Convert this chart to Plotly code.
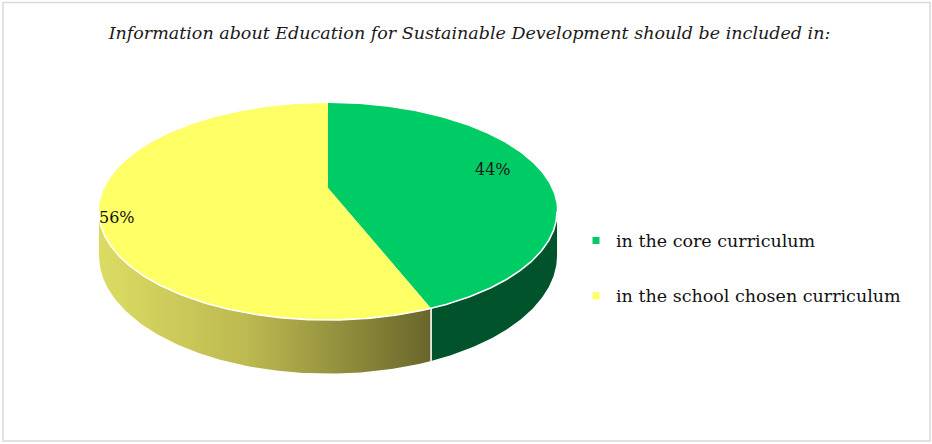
import numpy as np
import plotly.graph_objects as go

# ---- data ----
title_text = "Information about Education for Sustainable Development should be included in:"
categories = ["in the core curriculum", "in the school chosen curriculum"]
values = [44, 56]

# ---- style ----
top_colors = ["#00CC66", "#FFFF66"]
side_colors = ["#00532A", None]
side_gradient = [[0, "#DCDC64"], [0.45, "#BCB950"], [1, "#6A662B"]]
label_radius = [0.79, 0.93]
label_shift = [-2.5, -6.0]
label_colors = ["#1A1A1A", "#111111"]
serif = "DejaVu Serif"

W, H = 932, 444
cx, cy = 328.0, 188.0     # projected pie centre (pixels)
R, Hy = 223.6, 103.4      # horizontal / vertical radius
p = 0.2166                # perspective factor
T = 42.0                  # thickness


def proj(theta_deg, r=1.0, drop=0.0):
    t = np.radians(theta_deg)
    X = r * np.sin(t)
    Z = r * np.cos(t)
    d = 1 + p * Z
    return cx + R * X / d, cy - Hy * Z / d + drop / d


total = float(sum(values))
bounds = np.concatenate([[0], np.cumsum(values) / total * 360.0])

vis_lo = np.degrees(np.arccos(-p))        # ~102.5
vis_hi = 360 - vis_lo                     # ~257.5

fig = go.Figure()

# side faces
for i in range(len(values)):
    a, b = max(bounds[i], vis_lo), min(bounds[i + 1], vis_hi)
    if b <= a:
        continue
    th = np.linspace(a, b, 120)
    xt, yt = proj(th)
    xb, yb = proj(th[::-1], drop=T)
    xs = np.concatenate([xt, xb, xt[:1]])
    ys = np.concatenate([yt, yb, yt[:1]])
    kw = dict(x=xs, y=ys, mode="lines", fill="toself", line=dict(width=0),
              hoverinfo="skip", showlegend=False)
    if side_colors[i] is None:
        kw["fillgradient"] = dict(type="horizontal", colorscale=side_gradient,
                                  start=float(xs.min()), stop=float(xs.max()))
    else:
        kw["fillcolor"] = side_colors[i]
    fig.add_trace(go.Scatter(**kw))

# top faces
for i in range(len(values)):
    th = np.linspace(bounds[i], bounds[i + 1], 240)
    xa, ya = proj(th)
    xs = np.concatenate([[cx], xa, [cx]])
    ys = np.concatenate([[cy], ya, [cy]])
    fig.add_trace(go.Scatter(x=xs, y=ys, mode="lines", fill="toself",
                             fillcolor=top_colors[i], line=dict(width=0),
                             hoverinfo="skip", showlegend=False))

# white highlights: front rim and side seams
th = np.linspace(vis_lo, vis_hi, 300)
xr, yr = proj(th)
fig.add_trace(go.Scatter(x=xr, y=yr, mode="lines", line=dict(color="white", width=1.6),
                         hoverinfo="skip", showlegend=False))
for bnd in bounds[1:-1]:
    if vis_lo < bnd < vis_hi:
        x0, y0 = proj(bnd)
        x1, y1 = proj(bnd, drop=T)
        fig.add_trace(go.Scatter(x=[x0, x1], y=[y0, y1], mode="lines",
                                 line=dict(color="white", width=1.6),
                                 hoverinfo="skip", showlegend=False))

# percentage labels
for i in range(len(values)):
    mid = (bounds[i] + bounds[i + 1]) / 2 + label_shift[i]
    lx, ly = proj(mid, r=label_radius[i])
    fig.add_annotation(x=lx, y=ly, text=f"{values[i]}%", showarrow=False,
                       font=dict(family=serif, size=16, color=label_colors[i]))

# legend entries
for i, c in enumerate(categories):
    fig.add_trace(go.Scatter(x=[None], y=[None], mode="markers", name=c,
                             legendgroup=f"g{i}",
                             marker=dict(symbol="square", size=7, color=top_colors[i])))

# outer border
fig.add_shape(type="rect", x0=3, x1=930, y0=2.5, y1=441,
              line=dict(color="#D9D9D9", width=1.5), layer="below")

fig.update_layout(
    width=W, height=H,
    margin=dict(l=0, r=0, t=0, b=0),
    paper_bgcolor="white", plot_bgcolor="white",
    xaxis=dict(range=[0, W], visible=False, fixedrange=True),
    yaxis=dict(range=[H, 0], visible=False, fixedrange=True),
    title=dict(text=f"<i>{title_text}</i>", x=469.5 / W, xanchor="center",
               y=1 - 33 / H, yanchor="middle",
               font=dict(family=serif, size=17.5, color="#1A1A1A")),
    legend=dict(x=576 / W, xanchor="left", y=1 - 222.5 / H, yanchor="top",
                font=dict(family=serif, size=17.5, color="#111111"),
                tracegroupgap=29.5, bgcolor="rgba(0,0,0,0)"),
    showlegend=True,
)

fig.write_html("out.html")
